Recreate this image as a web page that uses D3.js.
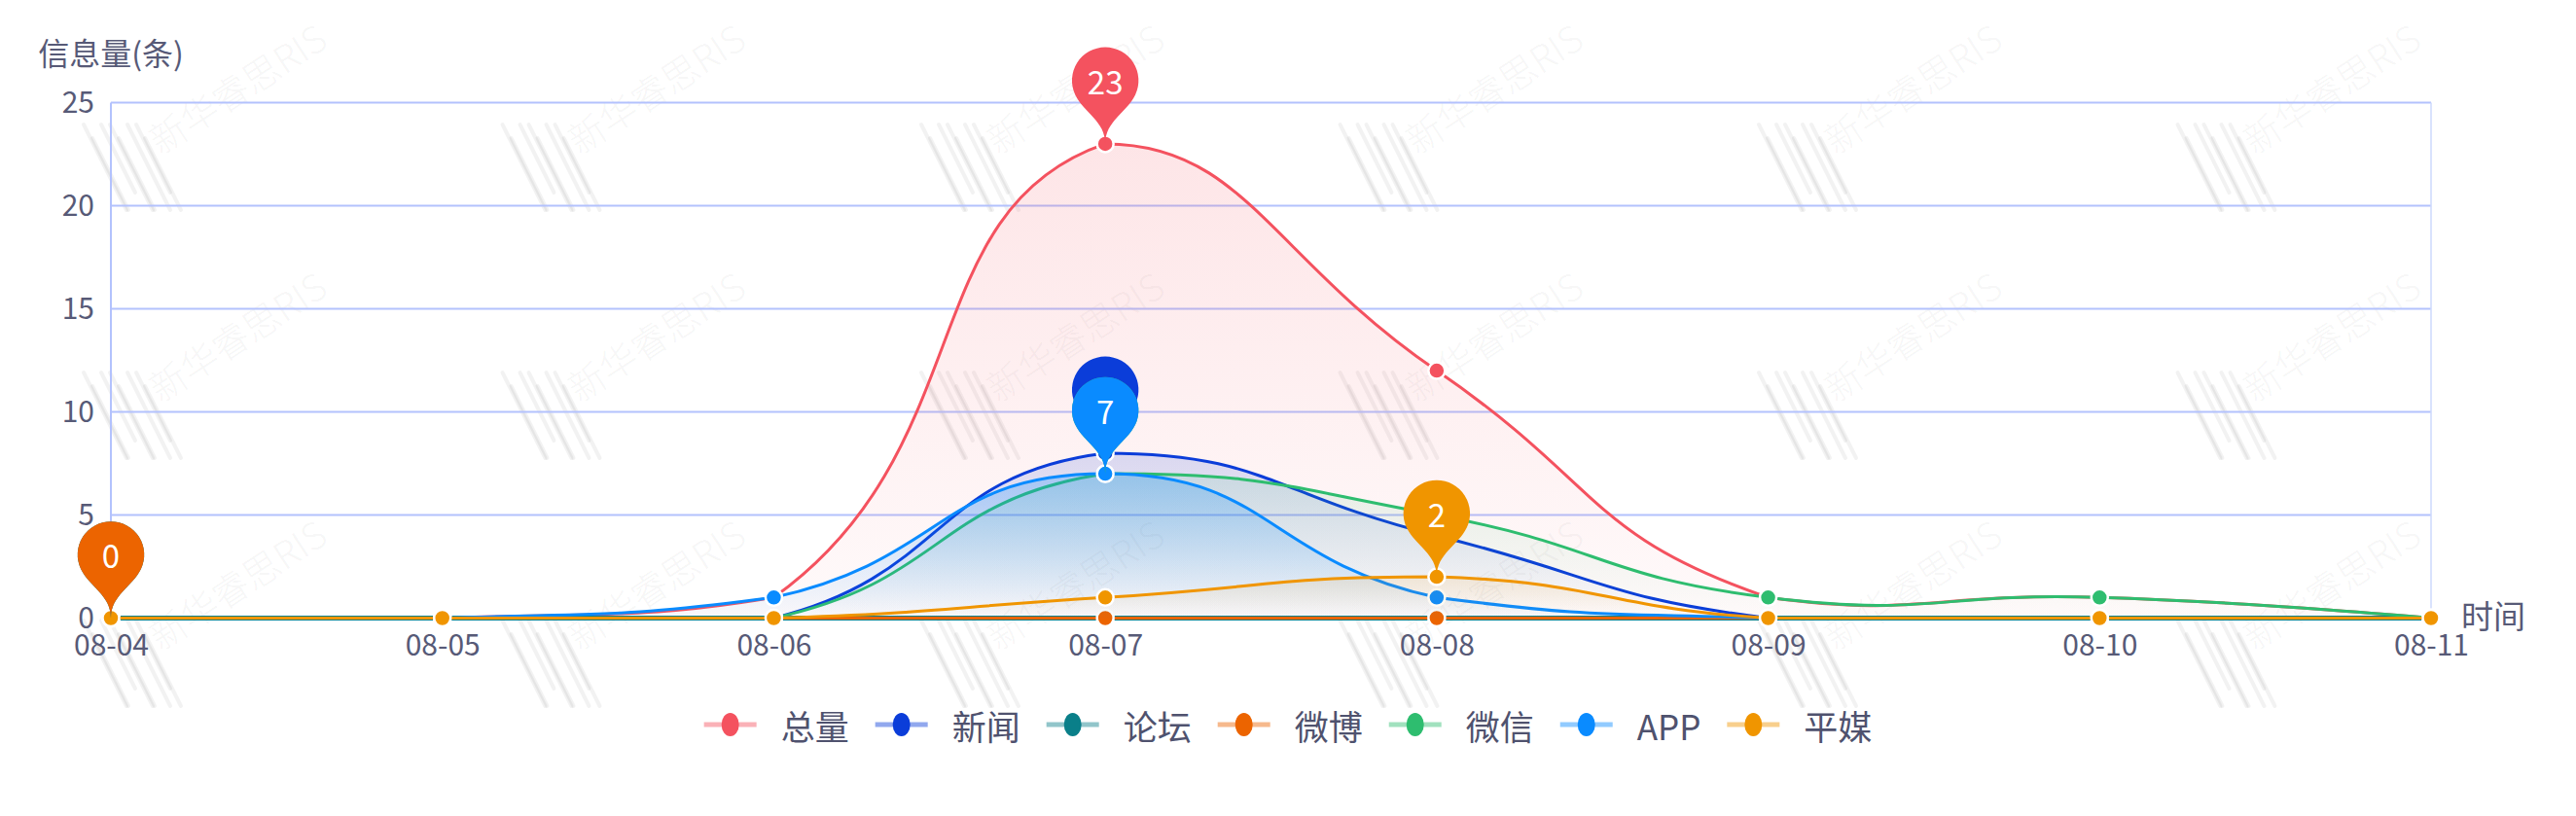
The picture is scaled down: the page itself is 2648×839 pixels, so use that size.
<!DOCTYPE html>
<html><head><meta charset="utf-8">
<script src="https://cdn.jsdelivr.net/npm/d3@7"></script>
<style>
html,body{margin:0;padding:0;background:#fff;}
svg{display:block;font-family:"Noto Sans CJK SC","Noto Sans",sans-serif;}
</style></head><body>
<svg id="chart" width="2648" height="839"></svg>
<script>
// ---------- data ----------
const dates = ["08-04","08-05","08-06","08-07","08-08","08-09","08-10","08-11"];
const seriesNames = ["总量","新闻","论坛","微博","微信","APP","平媒"];
const totalValues  = [0,0,1,23,12,1,1,0];
const newsValues   = [0,0,0,8,4,0,0,0];
const forumValues  = [0,0,0,0,0,0,0,0];
const weiboValues  = [0,0,0,0,0,0,0,0];
const wechatValues = [0,0,0,7,5,1,1,0];
const appValues    = [0,0,1,7,1,0,0,0];
const printValues  = [0,0,0,1,2,0,0,0];
const yTicks = [0,5,10,15,20,25];
const yAxisName = "信息量(条)";
const xAxisName = "时间";
const watermarkText = "新华睿思RIS";

// ---------- styles ----------
const colors = ["#f4525f","#0b3dd9","#0a7f89","#ec6400","#2ebd6f","#0a8bff","#f09500"];
const areaTop = [0.15,0.15,0,0,0.12,0.27,0.12];
const areaBottom = [0.03,0.0,0,0,0.0,0.02,0.0];
const lineWidths = [3,3,5,3,3,3,3];
const textColor = "#575a77";

const seriesValues = [totalValues,newsValues,forumValues,weiboValues,wechatValues,appValues,printValues];
const series = seriesNames.map((n,i)=>({name:n, values:seriesValues[i], color:colors[i], idx:i}));

const svg = d3.select("#chart");
const W = 2648, H = 839;
const pLeft = 114, pRight = 2499, pTop = 105.5, pBottom = 635.5;

const x = d3.scalePoint().domain(dates).range([pLeft, pRight]);
const y = d3.scaleLinear().domain([0, 25]).range([pBottom, pTop]);

// ---------- watermark ----------
const wm = svg.append("g").attr("class","watermark");
for (let i = 0; i < 7; i++) {
  for (let j = -1; j < 4; j++) {
    const lx = 128 + 430.5*i, ly = 172 + 255*j;
    const g = wm.append("g").attr("transform",`translate(${lx},${ly})`);
    for (let k = 0; k < 8; k++) {
      const x0 = -42 + k*9;
      const y0 = -44 + (k%3===1 ? 14 : 0);
      const y1 = 44 - (k%4===2 ? 18 : 0);
      g.append("line").attr("x1", x0).attr("y1", y0).attr("x2", x0 + (y1-y0)*0.5).attr("y2", y1)
        .attr("stroke","#000").attr("stroke-opacity",0.05).attr("stroke-width",4).attr("stroke-linecap","round");
    }
    const tx = lx + 37, ty = ly - 12;
    // only texts that lie fully inside the picture
    if (tx > 0 && tx + 200 < W && ty - 150 > 0 && ty + 10 < H) {
      wm.append("text").attr("transform",`translate(${tx},${ty}) rotate(-33)`)
        .attr("font-size",38).attr("font-weight",300).attr("fill","#000").attr("fill-opacity",0.055)
        .text(watermarkText);
    }
  }
}

// ---------- grid ----------
const grid = svg.append("g");
grid.selectAll("line.h").data(yTicks).join("line").attr("class","h")
  .attr("x1", pLeft).attr("x2", pRight).attr("y1", d=>y(d)).attr("y2", d=>y(d))
  .attr("stroke","#b3c2fd").attr("stroke-width",2);
grid.append("line").attr("x1",pLeft).attr("x2",pLeft).attr("y1",pTop).attr("y2",pBottom)
  .attr("stroke","#b3c2fd").attr("stroke-width",2);
grid.append("line").attr("x1",pRight).attr("x2",pRight).attr("y1",pTop).attr("y2",pBottom)
  .attr("stroke","#cdd8fd").attr("stroke-width",1.5);

// ---------- axes ----------
const yAxis = svg.append("g").attr("transform",`translate(${pLeft},0)`)
  .call(d3.axisLeft(y).tickValues(yTicks).tickSize(0).tickPadding(17));
yAxis.select(".domain").remove();
yAxis.selectAll("text").attr("font-size",30).attr("fill",textColor).attr("font-family","'Noto Sans CJK SC',sans-serif");

const xAxis = svg.append("g").attr("transform",`translate(0,${pBottom})`)
  .call(d3.axisBottom(x).tickSize(0).tickPadding(17));
xAxis.select(".domain").remove();
xAxis.selectAll("text").attr("font-size",30).attr("fill",textColor).attr("font-family","'Noto Sans CJK SC',sans-serif");

svg.append("text").attr("x", pLeft).attr("y", 53).attr("text-anchor","middle")
  .attr("dominant-baseline","central").attr("font-size",32).attr("fill",textColor).text(yAxisName);
svg.append("text").attr("x", 2530).attr("y", 632).attr("text-anchor","start")
  .attr("dominant-baseline","central").attr("font-size",33).attr("fill",textColor).text(xAxisName);

// ---------- smoothing (echarts-like) ----------
function smoothPath(pts, smooth, p) {
  const xs = pts.map(d=>d[0]), ys = pts.map(d=>d[1]);
  const minX = d3.min(xs), maxX = d3.max(xs), minY = d3.min(ys), maxY = d3.max(ys);
  const clamp = c => [Math.max(minX, Math.min(maxX, c[0])), Math.max(minY, Math.min(maxY, c[1]))];
  let cp0 = pts[0].slice();
  let v = [0,0];
  p.moveTo(pts[0][0], pts[0][1]);
  for (let i = 1; i < pts.length; i++) {
    const cur = pts[i], prev = pts[i-1], next = pts[i+1];
    let cp1, ratio = 0.5;
    if (!next) cp1 = cur.slice();
    else {
      v = [next[0]-prev[0], next[1]-prev[1]];
      const lp = Math.hypot(cur[0]-prev[0], cur[1]-prev[1]);
      const ln = Math.hypot(next[0]-cur[0], next[1]-cur[1]);
      ratio = ln/(ln+lp);
      cp1 = [cur[0]-v[0]*smooth*(1-ratio), cur[1]-v[1]*smooth*(1-ratio)];
    }
    const a = clamp(cp0), b = clamp(cp1);
    p.bezierCurveTo(a[0],a[1],b[0],b[1],cur[0],cur[1]);
    cp0 = [cur[0]+v[0]*smooth*ratio, cur[1]+v[1]*smooth*ratio];
  }
  return p;
}

// ---------- gradients ----------
const defs = svg.append("defs");
series.forEach(s => {
  const g = defs.append("linearGradient").attr("id","grad"+s.idx)
    .attr("x1",0).attr("y1",0).attr("x2",0).attr("y2",1);
  g.append("stop").attr("offset","0%").attr("stop-color",s.color).attr("stop-opacity",areaTop[s.idx]);
  g.append("stop").attr("offset","100%").attr("stop-color",s.color).attr("stop-opacity",areaBottom[s.idx]);
});

// ---------- series ----------
const plot = svg.append("g");
series.forEach(s => {
  const pts = s.values.map((v,i)=>[x(dates[i]), y(v)]);
  const g = plot.append("g");
  if (areaTop[s.idx] > 0) {
    const ap = smoothPath(pts, 0.5, d3.path());
    ap.lineTo(pts[pts.length-1][0], y(0));
    ap.lineTo(pts[0][0], y(0));
    ap.closePath();
    g.append("path").attr("d", ap.toString()).attr("fill", `url(#grad${s.idx})`);
  }
  g.append("path").attr("d", smoothPath(pts, 0.5, d3.path()).toString())
    .attr("fill","none").attr("stroke", s.color).attr("stroke-width", lineWidths[s.idx])
    .attr("stroke-linejoin","round");
  g.selectAll("circle").data(s.values).join("circle")
    .attr("cx",(d,i)=>x(dates[i])).attr("cy",d=>y(d)).attr("r",8.5)
    .attr("fill", s.color).attr("stroke","#fff").attr("stroke-width",2.5);
});

// ---------- max mark pins ----------
function pinPath(px, py, w, h) {
  const p = d3.path();
  const ww = w/5*3, hh = Math.max(ww, h), r = ww/2;
  const dy = r*r/(hh-r), cy = py - hh + r + dy;
  const ang = Math.asin(dy/r), dx = Math.cos(ang)*r;
  const tanX = Math.sin(ang), tanY = Math.cos(ang);
  const c1 = r*0.6, c2 = r*0.7;
  p.moveTo(px-dx, cy+dy);
  p.arc(px, cy, r, Math.PI-ang, Math.PI*2+ang);
  p.bezierCurveTo(px+dx-tanX*c1, cy+dy+tanY*c1, px, py-c2, px, py);
  p.bezierCurveTo(px, py-c2, px-dx+tanX*c1, cy+dy+tanY*c1, px-dx, cy+dy);
  p.closePath();
  return {d: p.toString(), cy, r};
}
const pinSize = 114;
const pinData = series.map(s => {
  const mi = d3.maxIndex(s.values);
  const v = s.values[mi];
  const px = x(dates[mi]), py = y(v);
  return Object.assign({s, v, px}, pinPath(px, py, pinSize, pinSize));
});
const pins = svg.append("g");
pinData.forEach((p, k) => {
  pins.append("path").attr("d", p.d).attr("fill", p.s.color);
});
pinData.forEach((p, k) => {
  // a label hidden under a later pin's head is not shown (as in the picture)
  const covered = pinData.slice(k+1).some(q => Math.hypot(q.px-p.px, q.cy-p.cy) < q.r*0.8);
  if (covered) return;
  pins.append("text").attr("x", p.px).attr("y", p.cy)
    .attr("text-anchor","middle").attr("dominant-baseline","central")
    .attr("font-size",33).attr("fill","#fff").text(p.v);
});

// ---------- legend ----------
const legend = svg.append("g");
const lgY = 745, iconHalf = 27, iconTextGap = 25, itemGap = 27;
const items = series.map(s => {
  const g = legend.append("g");
  g.append("line").attr("x1",-iconHalf).attr("x2",iconHalf).attr("y1",0).attr("y2",0)
    .attr("stroke", s.color).attr("stroke-opacity",0.45).attr("stroke-width",5);
  g.append("ellipse").attr("rx",9).attr("ry",12).attr("fill", s.color);
  const t = g.append("text").attr("x", iconHalf+iconTextGap).attr("y",0)
    .attr("dominant-baseline","central").attr("font-size",35).attr("fill","#4f526e").text(s.name);
  const w = iconHalf*2 + iconTextGap + t.node().getComputedTextLength();
  return {g, w};
});
const totalW = d3.sum(items, d=>d.w) + itemGap*(items.length-1);
let cx = W/2 - totalW/2;
items.forEach(it => {
  it.g.attr("transform", `translate(${cx+iconHalf},${lgY})`);
  cx += it.w + itemGap;
});
</script>
</body></html>
